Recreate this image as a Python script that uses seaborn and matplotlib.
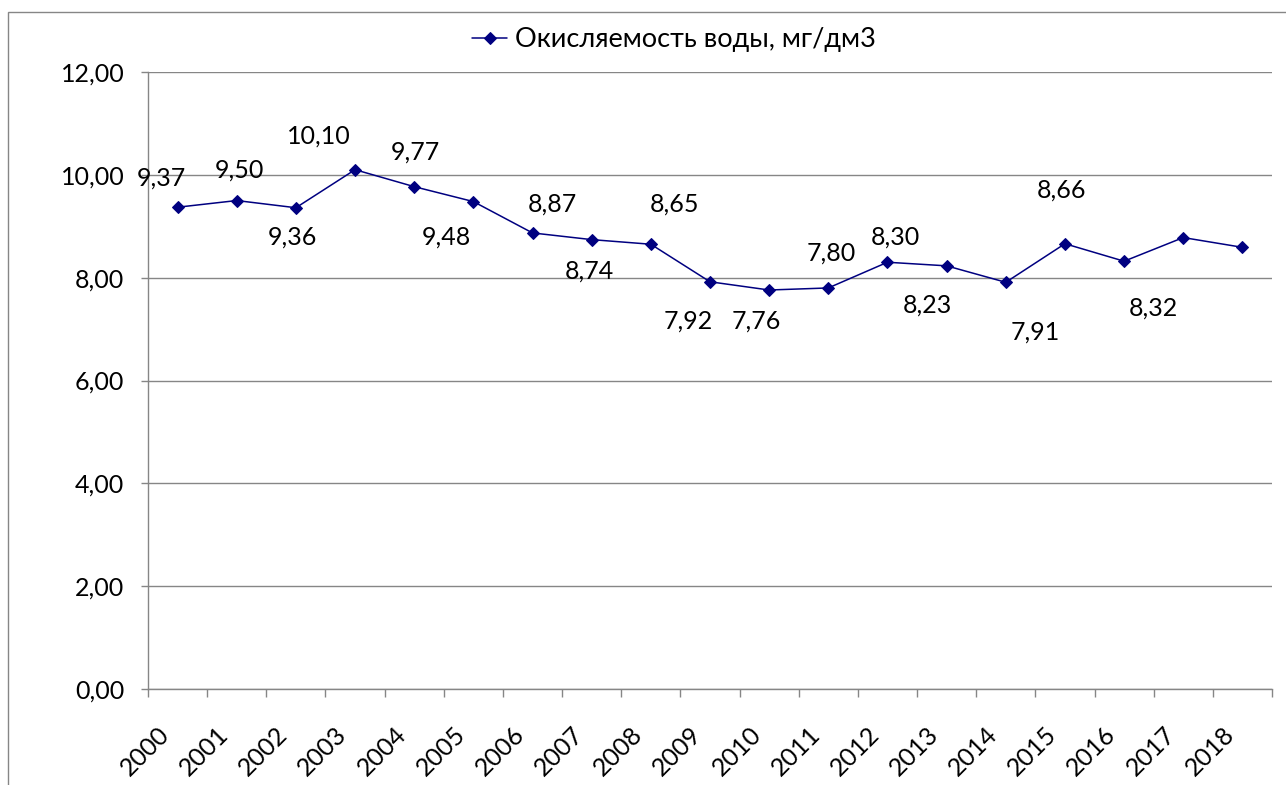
"""plot.py

Line chart of water oxidisability (mg/dm3) by year, 2000-2018.
"""

import matplotlib.pyplot as plt
import matplotlib.ticker as mticker
import matplotlib.transforms as mtransforms
from matplotlib.patches import Rectangle
import pandas as pd
import seaborn as sns

# Chart data
years = ['2000', '2001', '2002', '2003', '2004', '2005', '2006', '2007', '2008', '2009',
         '2010', '2011', '2012', '2013', '2014', '2015', '2016', '2017', '2018']
values = [9.37, 9.50, 9.36, 10.10, 9.77, 9.48, 8.87, 8.74, 8.65, 7.92,
          7.76, 7.80, 8.30, 8.23, 7.91, 8.66, 8.32, 8.78, 8.59]
# Data labels shown in the original (the last two points carry none)
point_labels = ['9,37', '9,50', '9,36', '10,10', '9,77', '9,48', '8,87', '8,74', '8,65', '7,92',
                '7,76', '7,80', '8,30', '8,23', '7,91', '8,66', '8,32', None, None]
series_name = 'Окисляемость воды, мг/дм3'
y_ticks = [0, 2, 4, 6, 8, 10, 12]

# Manual label placement (pixel offsets from each point)
label_offsets = [(-16, 29), (3, 30), (-3, -29), (-36, 34), (1, 35), (-27, -36), (20, 29),
                 (-2, -31), (24, 40), (-22, -39), (-13, -31), (3, 35), (8, 25), (-19, -39),
                 (29, -50), (-3, 54), (29, -47), (0, 0), (0, 0)]

line_colour = '#000080'
grid_colour = '#868686'

sns.set_style('white')
plt.rcParams['font.family'] = ['Lato', 'DejaVu Sans']
plt.rcParams['text.color'] = 'black'

df = pd.DataFrame({'year': years, 'value': values})

fig = plt.figure(figsize=(12.86, 7.85), dpi=100)
ax = fig.add_axes([148 / 1286, 1 - 689 / 785, (1272 - 148) / 1286, (689 - 72) / 785])

sns.lineplot(data=df, x='year', y='value', color=line_colour, marker='D',
             markersize=6, markeredgecolor=line_colour, linewidth=1.1,
             label=series_name, sort=False, ax=ax)

# Data labels
for i, (v, text) in enumerate(zip(values, point_labels)):
    if text is None:
        continue
    ax.annotate(text, xy=(i, v), xytext=label_offsets[i], textcoords='offset pixels',
                ha='center', va='center', fontsize=18, color='black')

# Axes, ticks and grid
ax.set_xlim(-0.5, len(years) - 0.5)
ax.set_ylim(0, 12)
ax.set_yticks(y_ticks)
ax.yaxis.set_major_formatter(mticker.FuncFormatter(lambda v, _: f'{v:.2f}'.replace('.', ',')))
ax.set_xlabel('')
ax.set_ylabel('')
ax.yaxis.grid(True, color=grid_colour, linewidth=1.0)
ax.set_axisbelow(True)
for side in ['top', 'right']:
    ax.spines[side].set_visible(False)
for side in ['left', 'bottom']:
    ax.spines[side].set_color(grid_colour)
    ax.spines[side].set_linewidth(1.0)

ax.tick_params(axis='y', which='major', left=True, length=5, width=1.0, color=grid_colour,
               direction='out', labelsize=18, labelcolor='black', pad=12)
ax.xaxis.set_minor_locator(mticker.FixedLocator([i - 0.5 for i in range(len(years) + 1)]))
ax.tick_params(axis='x', which='major', bottom=True, length=0, labelsize=18,
               labelcolor='black', pad=0)
ax.tick_params(axis='x', which='minor', bottom=True, length=6, width=1.0, color=grid_colour,
               direction='out')

shift = mtransforms.ScaledTranslation(-12 / 100, -42 / 100, fig.dpi_scale_trans)
for lbl in ax.get_xticklabels():
    lbl.set_rotation(45)
    lbl.set_rotation_mode('anchor')
    lbl.set_ha('right')
    lbl.set_va('center')
    lbl.set_transform(lbl.get_transform() + shift)

# Legend at the top
handles, labels = ax.get_legend_handles_labels()
ax.get_legend().remove()
fig.legend(handles, labels, loc='center', bbox_to_anchor=(674 / 1286, 1 - 40 / 785),
           frameon=False, fontsize=19.5, handlelength=1.3, handletextpad=0.3, numpoints=1)

# Chart area border (cut off at right and bottom in the original)
fig.add_artist(Rectangle((8 / 1286, -0.1), 1.2, 1.1 - 12 / 785, transform=fig.transFigure,
                         fill=False, edgecolor=grid_colour, linewidth=1.0))

fig.savefig('out.png', dpi=100)
